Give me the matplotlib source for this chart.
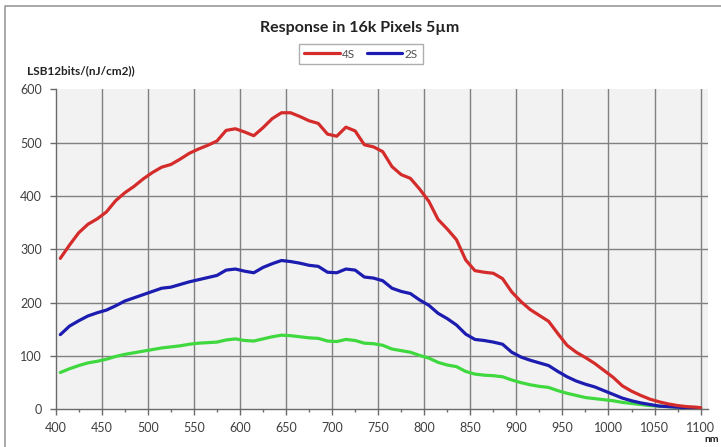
import matplotlib
matplotlib.use("Agg")
import matplotlib.pyplot as plt
from matplotlib.lines import Line2D
from matplotlib.ticker import MultipleLocator

wavelength = [405, 415, 425, 435, 445, 455, 465, 475, 485, 495,
              505, 515, 525, 535, 545, 555, 565, 575, 585, 595,
              605, 615, 625, 635, 645, 655, 665, 675, 685, 695,
              705, 715, 725, 735, 745, 755, 765, 775, 785, 795,
              805, 815, 825, 835, 845, 855, 865, 875, 885, 895,
              905, 915, 925, 935, 945, 955, 965, 975, 985, 995,
              1005, 1015, 1025, 1035, 1045, 1055, 1065, 1075, 1085, 1095, 1100]

resp_4s = [283, 308, 331, 347, 357, 370, 391, 406, 418, 432,
           444, 454, 459, 469, 480, 488, 495, 503, 523, 526,
           520, 513, 528, 545, 556, 556, 549, 541, 536, 516,
           512, 529, 522, 496, 492, 483, 455, 440, 433, 413,
           390, 356, 338, 318, 280, 260, 257, 255, 245, 220,
           202, 187, 176, 165, 142, 120, 107, 97, 86, 73,
           60, 44, 34, 26, 19, 14, 10, 7, 5, 4, 3]

resp_2s = [140, 156, 166, 175, 181, 186, 194, 203, 209, 215,
           221, 227, 229, 234, 239, 243, 247, 251, 261, 263,
           259, 256, 266, 273, 279, 277, 274, 270, 268, 257,
           256, 263, 261, 248, 246, 241, 227, 221, 217, 205,
           195, 180, 170, 158, 141, 131, 129, 126, 122, 107,
           98, 92, 87, 82, 71, 61, 53, 47, 42, 35,
           28, 21, 16, 12, 9, 6, 5, 4, 3, 2.5, 2]

resp_1s = [69, 76, 82, 87, 90, 94, 99, 103, 106, 109,
           112, 115, 117, 119, 122, 124, 125, 126, 130, 132,
           129, 128, 132, 136, 139, 138, 136, 134, 133, 128,
           127, 131, 129, 124, 123, 120, 113, 110, 107, 101,
           96, 88, 83, 80, 71, 66, 64, 63, 61, 55,
           50, 46, 43, 41, 35, 30, 26, 22, 20, 18,
           16, 13, 11, 9, 7, 6, 5, 4, 3.5, 3, 3]

x_ticks = [400, 450, 500, 550, 600, 650, 700, 750, 800, 850, 900, 950, 1000, 1050, 1100]
y_ticks = [0, 100, 200, 300, 400, 500, 600]

FONT = ["Lato", "DejaVu Sans"]
W, H = 721, 447
fig = plt.figure(figsize=(W / 100, H / 100), dpi=100)
fig.patch.set_facecolor("white")

ax = fig.add_axes([55.7 / W, 1 - 409.3 / H, (708 - 55.7) / W, (409.3 - 89.3) / H])
ax.set_facecolor("#f2f2f2")

ax.plot(wavelength, resp_1s, color="#3fd83f", lw=2.3, solid_capstyle="round", zorder=3)
ax.plot(wavelength, resp_2s, color="#1c1cb0", lw=2.3, solid_capstyle="round", zorder=4, label="2S")
ax.plot(wavelength, resp_4s, color="#d42b2b", lw=2.3, solid_capstyle="round", zorder=5, label="4S")

ax.set_xlim(400, 1108)
ax.set_ylim(0, 600)
ax.set_xticks(x_ticks)
ax.set_yticks(y_ticks)
ax.xaxis.set_minor_locator(MultipleLocator(25))

for v in x_ticks[1:]:
    ax.axvline(v, color="#808080", lw=1.0, zorder=1)
for v in y_ticks[1:-1]:
    ax.axhline(v, color="#808080", lw=1.0, zorder=1)

for s in ["top", "right"]:
    ax.spines[s].set_visible(False)
for s in ["left", "bottom"]:
    ax.spines[s].set_color("#6a6a6a")
    ax.spines[s].set_linewidth(1.0)

ax.tick_params(axis="both", which="major", direction="out", length=4, width=1,
               color="#6a6a6a", labelsize=9, labelcolor="#404040", pad=6)
ax.tick_params(axis="x", which="major", pad=5)
ax.tick_params(axis="x", which="minor", direction="out", length=2.5, width=1, color="#6a6a6a")
for lab in ax.get_xticklabels() + ax.get_yticklabels():
    lab.set_family(FONT)

handles, labels = ax.get_legend_handles_labels()
order = [labels.index("4S"), labels.index("2S")]
leg = fig.legend([handles[i] for i in order], [labels[i] for i in order],
                 loc="center", bbox_to_anchor=(361 / W, 1 - 54 / H), ncol=2,
                 frameon=True, fancybox=False, edgecolor="#9a9a9a",
                 prop={"family": FONT, "size": 8.5}, handlelength=3.0,
                 handletextpad=0.2, columnspacing=1.0, borderpad=0.4)
for t in leg.get_texts():
    t.set_color("#505050")
leg.get_frame().set_linewidth(1.0)

fig.text(360 / W, 1 - 28 / H, "Response in 16k Pixels 5µm", ha="center", va="center",
         fontsize=11.5, fontweight="bold", family=FONT, color="#222222")
fig.text(27 / W, 1 - 71 / H, "LSB12bits/(nJ/cm2))", ha="left", va="center",
         fontsize=8.5, fontweight="bold", family=FONT, color="#222222")
fig.text(719 / W, 1 - 440 / H, "nm", ha="right", va="center",
         fontsize=7.5, fontweight="bold", family=FONT, color="#222222")

fig.add_artist(Line2D([5 / W, 5 / W, 1.0], [0.0, 1 - 6 / H, 1 - 6 / H],
                      transform=fig.transFigure, color="#9a9a9a", lw=1.2))

fig.savefig("out.png", dpi=100)
